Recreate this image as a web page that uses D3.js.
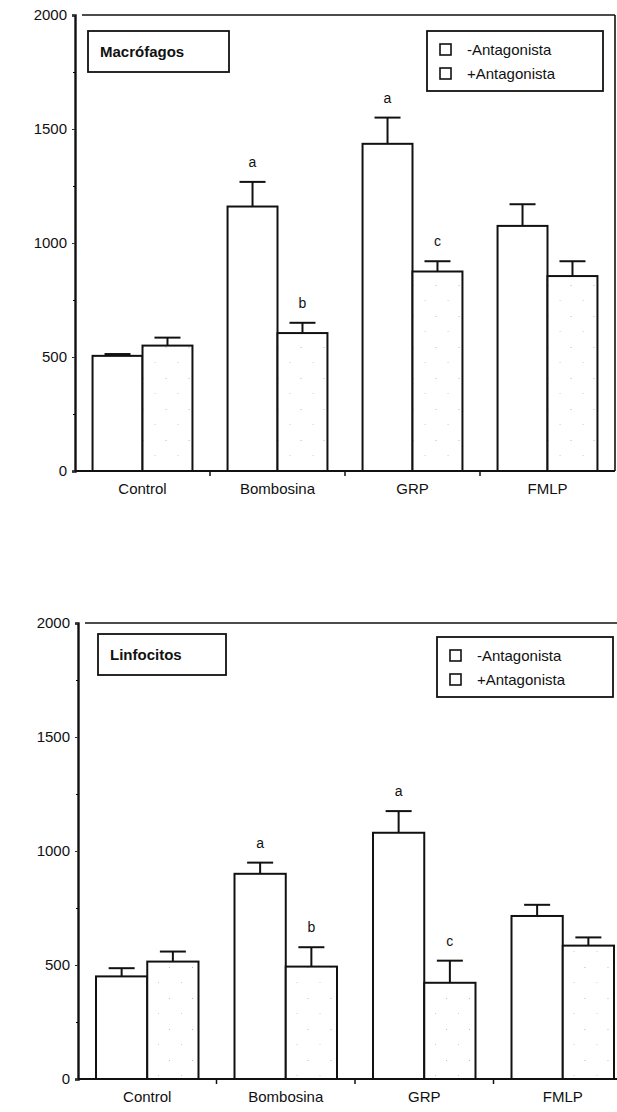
<!DOCTYPE html>
<html>
<head>
<meta charset="utf-8">
<script src="https://cdn.jsdelivr.net/npm/d3@7"></script>
<style>
  body { margin: 0; background: #fff; }
  svg text { fill: #111; }
</style>
</head>
<body>
<div id="chart"></div>
<script>
const groups = ['Control', 'Bombosina', 'GRP', 'FMLP'];
const series = ['-Antagonista', '+Antagonista'];
const yTicks = [0, 500, 1000, 1500, 2000];
const yMinor = [250, 750, 1250, 1750];

const macroMinus = [505, 1160, 1435, 1075];
const macroMinusErr = [8, 108, 115, 95];
const macroPlus = [550, 605, 875, 855];
const macroPlusErr = [35, 45, 45, 65];

const linfoMinus = [450, 900, 1080, 715];
const linfoMinusErr = [36, 49, 95, 49];
const linfoPlus = [515, 493, 422, 585];
const linfoPlusErr = [44, 85, 97, 36];

const lettersMinus = ['', 'a', 'a', ''];
const lettersPlus = ['', 'b', 'c', ''];

const width = 617, height = 1112;
const labelFont = '"Liberation Sans Narrow", "Arial Narrow", "Liberation Sans", sans-serif';
const tickFont = '"Liberation Sans", Arial, sans-serif';

const svg = d3.select('#chart')
    .append('svg')
    .attr('width', width)
    .attr('height', height);

// faint stipple for the +Antagonista bars
const defs = svg.append('defs');
const pat = defs.append('pattern')
    .attr('id', 'stipple')
    .attr('patternUnits', 'userSpaceOnUse')
    .attr('width', 23)
    .attr('height', 31);
pat.append('rect').attr('width', 23).attr('height', 31).attr('fill', '#fff');
pat.append('rect').attr('x', 4).attr('y', 6).attr('width', 1).attr('height', 1).attr('fill', '#bbb');
pat.append('rect').attr('x', 16).attr('y', 21).attr('width', 1).attr('height', 1).attr('fill', '#ccc');

function panel(cfg) {
    const x0 = d3.scaleBand()
        .domain(groups)
        .range([cfg.left, cfg.right])
        .paddingInner(0.26)
        .paddingOuter(0.13);
    const x1 = d3.scaleBand()
        .domain(series)
        .range([0, x0.bandwidth()]);
    const y = d3.scaleLinear()
        .domain([0, 2000])
        .range([cfg.bottom, cfg.top]);

    const g = svg.append('g');

    // frame: top + right
    g.append('line')
        .attr('x1', cfg.left + 7).attr('x2', cfg.right)
        .attr('y1', cfg.top).attr('y2', cfg.top)
        .attr('stroke', '#111').attr('stroke-width', 1.6);
    g.append('line')
        .attr('x1', cfg.right).attr('x2', cfg.right)
        .attr('y1', cfg.top).attr('y2', cfg.bottom)
        .attr('stroke', '#111').attr('stroke-width', 1.6);

    // y axis
    const yAxis = d3.axisLeft(y)
        .tickValues(yTicks)
        .tickSize(3)
        .tickPadding(5)
        .tickFormat(d3.format('d'));
    const ya = g.append('g')
        .attr('transform', `translate(${cfg.left},0)`)
        .call(yAxis);
    ya.select('.domain').attr('stroke-width', 2.4).attr('stroke', '#111');
    ya.selectAll('.tick line').attr('stroke', '#333');
    ya.selectAll('.tick text')
        .style('font-family', tickFont)
        .style('font-size', '15px');

    g.append('g')
        .attr('transform', `translate(${cfg.left},0)`)
        .call(d3.axisLeft(y).tickValues(yMinor).tickSize(2).tickFormat(''))
        .call(a => a.select('.domain').remove());

    // baseline with ticks between groups
    g.append('line')
        .attr('x1', cfg.left).attr('x2', cfg.right)
        .attr('y1', y(0)).attr('y2', y(0))
        .attr('stroke', '#111').attr('stroke-width', 2);
    const step = x0.step();
    g.selectAll('.sep')
        .data(groups.slice(1))
        .enter()
        .append('line')
        .attr('x1', d => x0(d) - step * 0.13)
        .attr('x2', d => x0(d) - step * 0.13)
        .attr('y1', y(0))
        .attr('y2', y(0) + 5)
        .attr('stroke', '#111')
        .attr('stroke-width', 1.5);

    // category labels
    const xAxis = d3.axisBottom(x0).tickSize(0).tickPadding(12);
    const xa = g.append('g')
        .attr('transform', `translate(0,${y(0)})`)
        .call(xAxis);
    xa.select('.domain').remove();
    xa.selectAll('.tick text')
        .style('font-family', labelFont)
        .style('font-size', '15px');

    const rows = groups.map((d, i) => ({
        group: d,
        vals: [
            { s: series[0], v: cfg.minus[i], e: cfg.minusErr[i], l: lettersMinus[i] },
            { s: series[1], v: cfg.plus[i], e: cfg.plusErr[i], l: lettersPlus[i] }
        ]
    }));

    const grp = g.selectAll('.grp')
        .data(rows)
        .enter()
        .append('g')
        .attr('transform', d => `translate(${x0(d.group)},0)`);

    const item = grp.selectAll('.item')
        .data(d => d.vals)
        .enter()
        .append('g');

    item.append('line')
        .attr('x1', d => x1(d.s) + x1.bandwidth() / 2)
        .attr('x2', d => x1(d.s) + x1.bandwidth() / 2)
        .attr('y1', d => y(d.v))
        .attr('y2', d => y(d.v + d.e))
        .attr('stroke', '#111').attr('stroke-width', 2);
    item.append('line')
        .attr('x1', d => x1(d.s) + x1.bandwidth() / 2 - 13)
        .attr('x2', d => x1(d.s) + x1.bandwidth() / 2 + 13)
        .attr('y1', d => y(d.v + d.e))
        .attr('y2', d => y(d.v + d.e))
        .attr('stroke', '#111').attr('stroke-width', 2);

    item.append('rect')
        .attr('x', d => x1(d.s))
        .attr('y', d => y(d.v))
        .attr('width', x1.bandwidth())
        .attr('height', d => y(0) - y(d.v))
        .attr('fill', d => d.s === series[0] ? '#fff' : 'url(#stipple)')
        .attr('stroke', '#111')
        .attr('stroke-width', 2);

    item.append('text')
        .attr('x', d => x1(d.s) + x1.bandwidth() / 2)
        .attr('y', d => y(d.v + d.e) - 15)
        .attr('text-anchor', 'middle')
        .style('font-family', tickFont)
        .style('font-size', '14px')
        .text(d => d.l);

    // title box
    const tb = g.append('g').attr('transform', `translate(${cfg.title.x},${cfg.title.y})`);
    tb.append('rect')
        .attr('width', cfg.title.w).attr('height', 41)
        .attr('fill', '#fff').attr('stroke', '#111').attr('stroke-width', 1.8);
    tb.append('text')
        .attr('x', 12).attr('y', 26)
        .style('font-family', tickFont)
        .style('font-weight', 'bold')
        .style('font-size', '15px')
        .text(cfg.title.text);

    // legend
    const lg = g.append('g').attr('transform', `translate(${cfg.legend.x},${cfg.legend.y})`);
    lg.append('rect')
        .attr('width', 176).attr('height', 60)
        .attr('fill', '#fff').attr('stroke', '#111').attr('stroke-width', 1.8);
    lg.selectAll('.lsq')
        .data(series)
        .enter()
        .append('rect')
        .attr('x', 13)
        .attr('y', (d, i) => 13 + i * 24)
        .attr('width', 11).attr('height', 11)
        .attr('fill', '#fff')
        .attr('stroke', '#111').attr('stroke-width', 1.6);
    lg.selectAll('.ltx')
        .data(series)
        .enter()
        .append('text')
        .attr('x', 40)
        .attr('y', (d, i) => 24 + i * 24)
        .style('font-family', labelFont)
        .style('font-size', '15px')
        .text(d => d);
}

panel({
    left: 75, right: 615, top: 15, bottom: 471,
    minus: macroMinus, minusErr: macroMinusErr,
    plus: macroPlus, plusErr: macroPlusErr,
    title: { x: 88, y: 31, w: 141, text: 'Macrófagos' },
    legend: { x: 427, y: 31 }
});

panel({
    left: 78, right: 632, top: 623, bottom: 1079,
    minus: linfoMinus, minusErr: linfoMinusErr,
    plus: linfoPlus, plusErr: linfoPlusErr,
    title: { x: 98, y: 634, w: 128, text: 'Linfocitos' },
    legend: { x: 437, y: 637 }
});
</script>
</body>
</html>
